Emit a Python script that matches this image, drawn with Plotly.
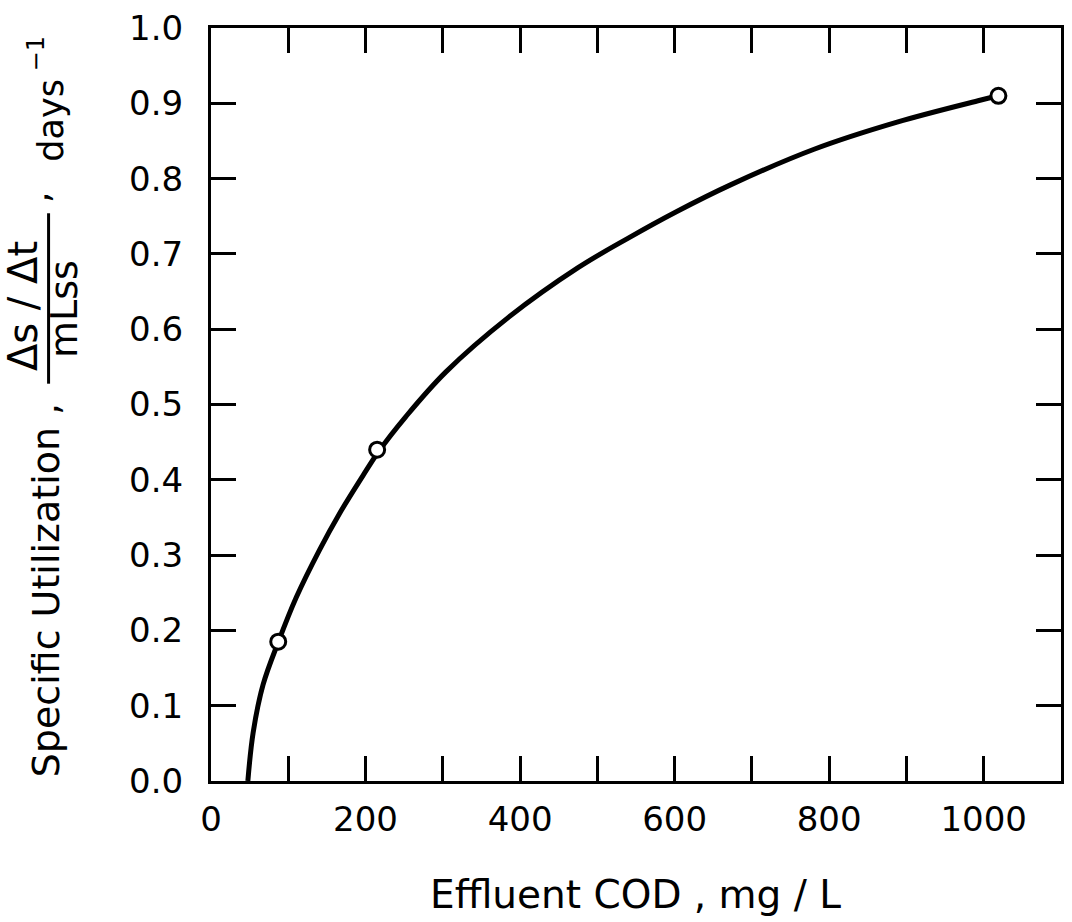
import plotly.graph_objects as go

# ---- data ----
curve_cod = [47.7, 54.5, 67.4, 87.6, 110.4, 140.5, 166.2, 196.3, 216.5, 252.2,
             303.7, 385.3, 475.5, 540.0, 602.2, 673.0, 780.5, 887.9, 995.2, 1018.9]
curve_util = [0.000, 0.064, 0.128, 0.186, 0.244, 0.307, 0.355, 0.405, 0.437, 0.484,
              0.543, 0.616, 0.682, 0.721, 0.756, 0.792, 0.839, 0.875, 0.904, 0.910]

point_cod = [87, 215, 1019]
point_util = [0.185, 0.44, 0.91]

x_tickvals = [0, 100, 200, 300, 400, 500, 600, 700, 800, 900, 1000]
x_ticktext = ["0", "", "200", "", "400", "", "600", "", "800", "", "1000"]
y_tickvals = [0.0, 0.1, 0.2, 0.3, 0.4, 0.5, 0.6, 0.7, 0.8, 0.9, 1.0]
y_ticktext = ["0.0", "0.1", "0.2", "0.3", "0.4", "0.5", "0.6", "0.7", "0.8", "0.9", "1.0"]

# ---- layout geometry (pixels) ----
W, H = 1072, 922
ML, MR, MT, MB = 211, 8, 21, 141
PW = W - ML - MR
PH = H - MT - MB


def px(xpix):
    return (xpix - ML) / PW


def py(ypix):
    return (H - MB - ypix) / PH


FONT = "DejaVu Sans"

fig = go.Figure()
fig.add_trace(go.Scatter(
    x=curve_cod, y=curve_util, mode="lines",
    line=dict(color="black", width=5, shape="spline", smoothing=1.0),
    hoverinfo="skip", showlegend=False,
))
fig.add_trace(go.Scatter(
    x=point_cod, y=point_util, mode="markers",
    marker=dict(symbol="circle", size=15, color="white",
                line=dict(color="black", width=3)),
    showlegend=False,
))

axis_common = dict(
    showline=True, linecolor="black", linewidth=3, mirror="allticks",
    ticks="inside", ticklen=25, tickwidth=3, tickcolor="black",
    showgrid=False, zeroline=False,
    tickfont=dict(family=FONT, size=34, color="black"),
)

fig.update_xaxes(range=[0, 1100], tickmode="array", tickvals=x_tickvals,
                 ticktext=x_ticktext, ticklabelstandoff=6, **axis_common)
fig.update_yaxes(range=[0, 1.0], tickmode="array", tickvals=y_tickvals,
                 ticktext=y_ticktext, ticklabelstandoff=18, **axis_common)

ann = []
# x axis title
ann.append(dict(text="Effluent COD , mg / L", x=px(637), y=py(896),
                xref="paper", yref="paper", xanchor="center", yanchor="middle",
                showarrow=False, font=dict(family=FONT, size=39, color="black")))
# y axis title pieces
ann.append(dict(text="Specific Utilization ,", x=px(45), y=py(588),
                xref="paper", yref="paper", xanchor="center", yanchor="middle",
                textangle=-90, showarrow=False,
                font=dict(family=FONT, size=38, color="black")))
ann.append(dict(text="Δs / Δt", x=px(23), y=py(302),
                xref="paper", yref="paper", xanchor="center", yanchor="middle",
                textangle=-90, showarrow=False,
                font=dict(family=FONT, size=40, color="black")))
ann.append(dict(text="mLss", x=px(64), y=py(305),
                xref="paper", yref="paper", xanchor="center", yanchor="middle",
                textangle=-90, showarrow=False,
                font=dict(family=FONT, size=38, color="black")))
ann.append(dict(text=",", x=px(36), y=py(192),
                xref="paper", yref="paper", xanchor="center", yanchor="middle",
                textangle=-90, showarrow=False,
                font=dict(family=FONT, size=36, color="black")))
ann.append(dict(text="days", x=px(51), y=py(114),
                xref="paper", yref="paper", xanchor="center", yanchor="middle",
                textangle=-90, showarrow=False,
                font=dict(family=FONT, size=35, color="black")))
ann.append(dict(text="−1", x=px(35), y=py(47),
                xref="paper", yref="paper", xanchor="center", yanchor="middle",
                textangle=-90, showarrow=False,
                font=dict(family=FONT, size=24, color="black")))

shapes = [dict(type="line", xref="paper", yref="paper",
               x0=px(48), x1=px(48), y0=py(208), y1=py(380),
               line=dict(color="black", width=3))]

fig.update_layout(
    width=W, height=H,
    margin=dict(l=ML, r=MR, t=MT, b=MB, pad=0),
    paper_bgcolor="white", plot_bgcolor="white",
    annotations=ann, shapes=shapes,
    font=dict(family=FONT, color="black"),
)

fig.write_html("out.html")
